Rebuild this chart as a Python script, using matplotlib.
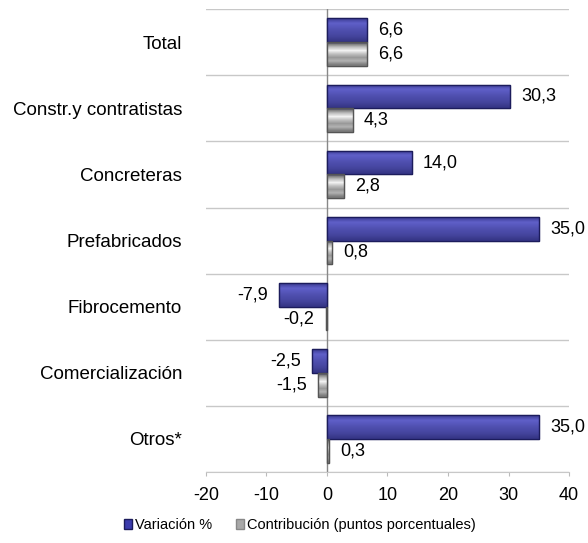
import matplotlib.pyplot as plt
import matplotlib.patches as mpatches
import numpy as np

plt.rcParams['font.family'] = ['Liberation Sans', 'DejaVu Sans']

categories = ["Total", "Constr.y contratistas", "Concreteras", "Prefabricados",
              "Fibrocemento", "Comercialización", "Otros*"]
variacion = [6.6, 30.3, 14.0, 35.0, -7.9, -2.5, 35.0]
contribucion = [6.6, 4.3, 2.8, 0.8, -0.2, -1.5, 0.3]
x_ticks = [-20, -10, 0, 10, 20, 30, 40]

fig = plt.figure(figsize=(5.88, 5.43), dpi=100)
ax = fig.add_axes([0.350, 0.131, 0.618, 0.852])

y = np.arange(len(categories))
h = 0.36

blue_bars = ax.barh(y - h / 2, variacion, height=h, color='#3c3cae',
                    edgecolor='#1c1c5c', linewidth=0.8, zorder=3)
gray_bars = ax.barh(y + h / 2, contribucion, height=h, color='#a8a8a8',
                    edgecolor='#555555', linewidth=0.8, zorder=3)

# fake the excel bevel with a gradient clipped to each bar
blue_grad = np.array([0.55, 0.9, 0.8, 0.68, 0.6, 0.5, 0.35]).reshape(-1, 1)
gray_grad = np.array([0.45, 0.75, 0.95, 0.75, 0.6, 0.7, 0.5]).reshape(-1, 1)
for bars, grad, kind in [(blue_bars, blue_grad, 'blue'), (gray_bars, gray_grad, 'gray')]:
    for b in bars:
        x0, y0, w, hh = b.get_x(), b.get_y(), b.get_width(), b.get_height()
        if kind == 'blue':
            img = np.zeros((len(grad), 1, 3))
            img[:, 0, 0] = 0.12 + 0.28 * grad[:, 0]
            img[:, 0, 1] = 0.12 + 0.28 * grad[:, 0]
            img[:, 0, 2] = 0.38 + 0.45 * grad[:, 0]
        else:
            img = np.repeat(grad[:, :, None], 3, axis=2)
        im = ax.imshow(img, extent=[x0, x0 + w, y0 + hh, y0], aspect='auto',
                       interpolation='bilinear', zorder=3.5)
        im.set_clip_path(b)
        edge = mpatches.Rectangle((x0, y0), w, hh, fill=False,
                                  edgecolor=b.get_edgecolor(), linewidth=1.0, zorder=4)
        ax.add_patch(edge)

def fmt(v):
    return f"{v:.1f}".replace('.', ',')

for bars, vals in [(blue_bars, variacion), (gray_bars, contribucion)]:
    for b, v in zip(bars, vals):
        yc = b.get_y() + b.get_height() / 2
        if v >= 0:
            ax.annotate(fmt(v), (v, yc), xytext=(8, 0), textcoords='offset points',
                        ha='left', va='center', fontsize=13, color='black')
        else:
            ax.annotate(fmt(v), (v, yc), xytext=(-8, 0), textcoords='offset points',
                        ha='right', va='center', fontsize=13, color='black')

ax.set_xlim(-20, 40)
ax.set_ylim(len(categories) - 0.5, -0.5)
ax.set_xticks(x_ticks)
ax.set_xticklabels([str(t) for t in x_ticks], fontsize=13)
ax.set_yticks(y)
ax.set_yticklabels(categories, fontsize=13.5)
ax.tick_params(axis='y', length=0, pad=17)
ax.tick_params(axis='x', length=3, color='#bbbbbb', pad=8)

# separator lines between categories
for sep in np.arange(-0.5, len(categories), 1.0):
    ax.axhline(sep, color='#c8c8c8', linewidth=1.0, zorder=1)
ax.axvline(0, color='#888888', linewidth=1.0, zorder=2)

for s in ['top', 'right', 'left']:
    ax.spines[s].set_visible(False)
ax.spines['bottom'].set_color('#c8c8c8')

handles = [mpatches.Patch(facecolor='#3c3cae', edgecolor='#1c1c5c', label='Variación %'),
           mpatches.Patch(facecolor='#a8a8a8', edgecolor='#888888',
                          label='Contribución (puntos porcentuales)')]
fig.legend(handles=handles, loc='center', bbox_to_anchor=(0.51, 0.033), ncol=2,
           frameon=False, fontsize=10.5, handlelength=0.6, handleheight=0.6,
           handletextpad=0.2, columnspacing=1.6)

fig.savefig('out.png', dpi=100)
